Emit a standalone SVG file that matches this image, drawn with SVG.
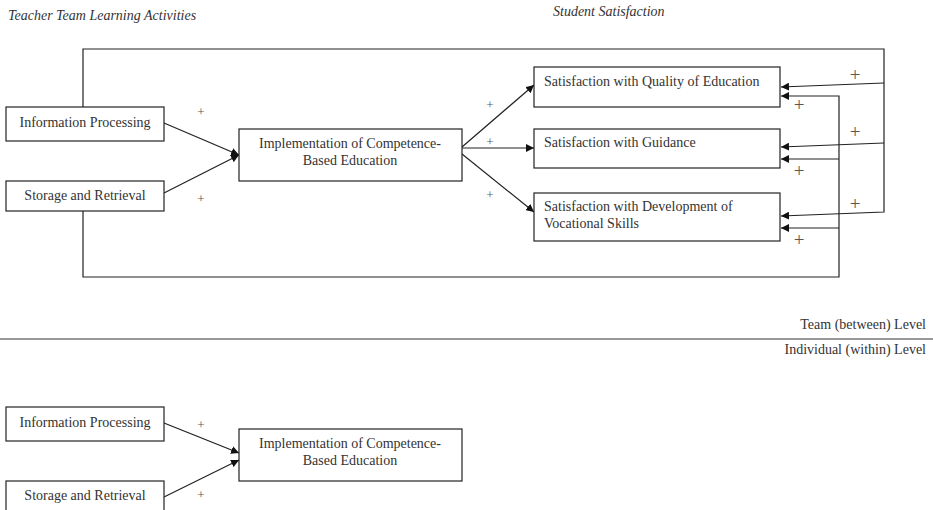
<svg xmlns="http://www.w3.org/2000/svg" width="933" height="510" viewBox="0 0 933 510">
<defs>
<style>
.box{fill:#fff;stroke:#222;stroke-width:1.2}
.t{font-family:"Liberation Serif","Times New Roman",serif;font-size:14px;fill:#333}
.ti{font-family:"Liberation Serif","Times New Roman",serif;font-size:14px;font-style:italic;fill:#333}
.c{text-anchor:middle}
.ln{fill:none;stroke:#222;stroke-width:1.2}
.ps{font-family:"Liberation Serif","Times New Roman",serif;font-size:13px;fill:#555;text-anchor:middle}
.pl{font-family:"Liberation Serif","Times New Roman",serif;font-size:19px;fill:#555;text-anchor:middle}
</style>
<marker id="ah" viewBox="0 0 10 10" refX="10" refY="5" markerWidth="8" markerHeight="8" markerUnits="userSpaceOnUse" orient="auto">
<path d="M0,0 L10,5 L0,10 z" fill="#111"/>
</marker>
</defs>
<rect width="933" height="510" fill="#fff"/>
<text class="ti" x="8" y="20">Teacher Team Learning Activities</text>
<text class="ti" x="553" y="16">Student Satisfaction</text>

<g id="connectors">
<line class="ln" x1="164" y1="123" x2="239" y2="155" marker-end="url(#ah)"/>
<line class="ln" x1="164" y1="193" x2="239" y2="155" marker-end="url(#ah)"/>
<line class="ln" x1="462" y1="147" x2="534" y2="85" marker-end="url(#ah)"/>
<line class="ln" x1="462" y1="148" x2="534" y2="148" marker-end="url(#ah)"/>
<line class="ln" x1="462" y1="154" x2="534" y2="212" marker-end="url(#ah)"/>
<polyline class="ln" points="83,107 83,49 884,49 884,212 781,216" marker-end="url(#ah)"/>
<line class="ln" x1="884" y1="83" x2="781" y2="87" marker-end="url(#ah)"/>
<line class="ln" x1="884" y1="143" x2="781" y2="147" marker-end="url(#ah)"/>
<polyline class="ln" points="83,211 83,277 839,277 839,96 781,96" marker-end="url(#ah)"/>
<line class="ln" x1="839" y1="159" x2="781" y2="159" marker-end="url(#ah)"/>
<line class="ln" x1="839" y1="228" x2="781" y2="228" marker-end="url(#ah)"/>
<line class="ln" x1="164" y1="423" x2="239" y2="453" marker-end="url(#ah)"/>
<line class="ln" x1="164" y1="497" x2="239" y2="460" marker-end="url(#ah)"/>
</g>

<g id="labels">
<text class="ps" x="201" y="116">+</text>
<text class="ps" x="201" y="203">+</text>
<text class="ps" x="490" y="109">+</text>
<text class="ps" x="490" y="146">+</text>
<text class="ps" x="490" y="199">+</text>
<text class="pl" x="855" y="81">+</text>
<text class="pl" x="799" y="111">+</text>
<text class="pl" x="855" y="138">+</text>
<text class="pl" x="799" y="177">+</text>
<text class="pl" x="855" y="210">+</text>
<text class="pl" x="799" y="246">+</text>
<text class="ps" x="201" y="429">+</text>
<text class="ps" x="201" y="499">+</text>
</g>

<g id="info1"><rect class="box" x="6" y="107" width="158" height="34"/><text class="t c" x="85" y="127">Information Processing</text></g>
<g id="storage1"><rect class="box" x="6" y="181" width="158" height="30"/><text class="t c" x="85" y="200">Storage and Retrieval</text></g>
<g id="impl1"><rect class="box" x="239" y="129" width="223" height="52"/><text class="t c" x="350" y="148">Implementation of Competence-</text><text class="t c" x="350" y="165">Based Education</text></g>
<g id="qoe"><rect class="box" x="534" y="67" width="246" height="40"/><text class="t" x="544" y="86">Satisfaction with Quality of Education</text></g>
<g id="guid"><rect class="box" x="534" y="129" width="246" height="39"/><text class="t" x="544" y="147">Satisfaction with Guidance</text></g>
<g id="dev"><rect class="box" x="534" y="193" width="246" height="48"/><text class="t" x="544" y="211">Satisfaction with Development of</text><text class="t" x="544" y="228">Vocational Skills</text></g>

<line x1="0" y1="339" x2="933" y2="339" stroke="#333" stroke-width="1.2"/>
<text class="t" x="926" y="329" text-anchor="end">Team (between) Level</text>
<text class="t" x="926" y="354" text-anchor="end">Individual (within) Level</text>

<g id="info2"><rect class="box" x="6" y="407" width="158" height="34"/><text class="t c" x="85" y="427">Information Processing</text></g>
<g id="storage2"><rect class="box" x="6" y="481" width="158" height="40"/><text class="t c" x="85" y="500">Storage and Retrieval</text></g>
<g id="impl2"><rect class="box" x="239" y="429" width="223" height="52"/><text class="t c" x="350" y="448">Implementation of Competence-</text><text class="t c" x="350" y="465">Based Education</text></g>
</svg>
